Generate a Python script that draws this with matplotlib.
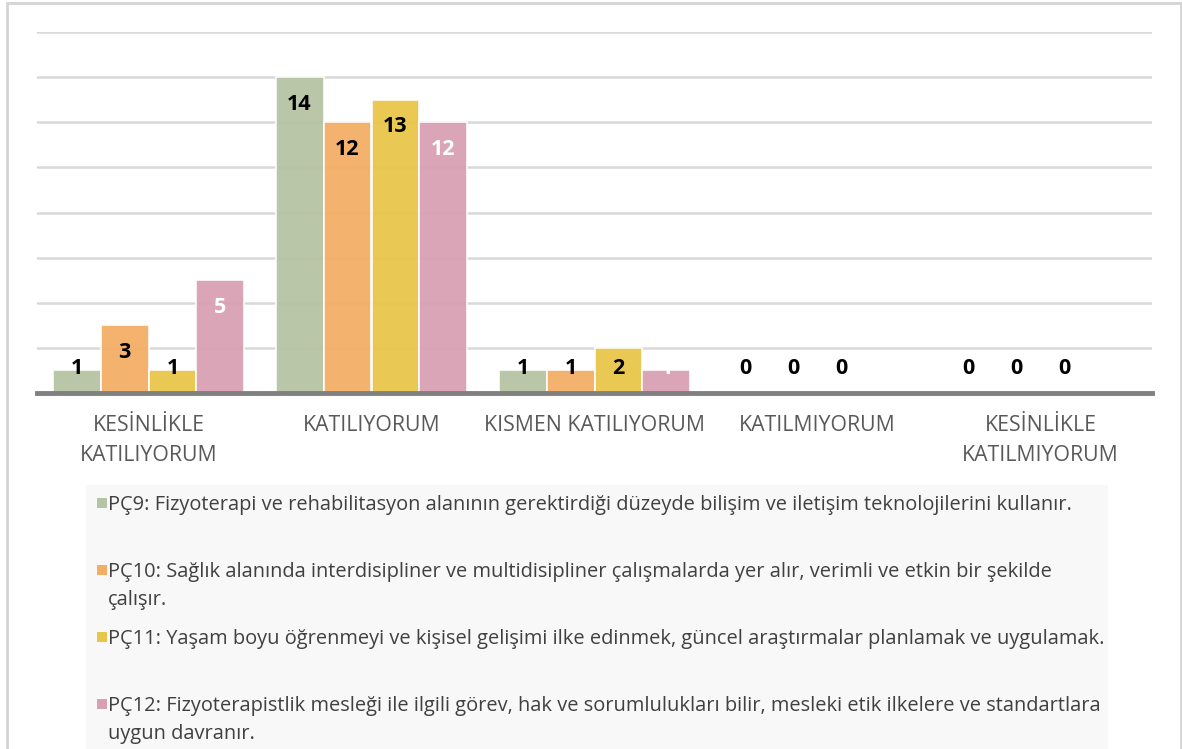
import matplotlib
matplotlib.use("Agg")
import matplotlib.pyplot as plt
from matplotlib.patches import Rectangle
import numpy as np

plt.rcParams['font.family'] = ['Open Sans', 'DejaVu Sans']

categories = ["KESİNLİKLE\nKATILIYORUM", "KATILIYORUM", "KISMEN KATILIYORUM",
              "KATILMIYORUM", "KESİNLİKLE\nKATILMIYORUM"]
series_names = [
    "PÇ9: Fizyoterapi ve rehabilitasyon alanının gerektirdiği düzeyde bilişim ve iletişim teknolojilerini kullanır.",
    "PÇ10: Sağlık alanında interdisipliner ve multidisipliner çalışmalarda yer alır, verimli ve etkin bir şekilde\nçalışır.",
    "PÇ11: Yaşam boyu öğrenmeyi ve kişisel gelişimi ilke edinmek, güncel araştırmalar planlamak ve uygulamak.",
    "PÇ12: Fizyoterapistlik mesleği ile ilgili görev, hak ve sorumlulukları bilir, mesleki etik ilkelere ve standartlara\nuygun davranır.",
]
pc9 = [1, 14, 1, 0, 0]
pc10 = [3, 12, 1, 0, 0]
pc11 = [1, 13, 2, 0, 0]
pc12 = [5, 12, 1, None, None]

values = [pc9, pc10, pc11, pc12]
colors = ["#b5c4a3", "#f3ae65", "#e8c64b", "#d8a1b3"]
label_colors = ["black", "black", "black", "white"]

fig = plt.figure(figsize=(11.82, 7.49), dpi=100)
# outer chart border
fig.patches.append(Rectangle((7 / 1182, -0.01), 1174 / 1182, 1 - 3 / 749 + 0.01,
                             transform=fig.transFigure, fill=False,
                             edgecolor="#d4d4d4", linewidth=2))

ax = fig.add_axes([37 / 1182, 1 - 393 / 749, 1115 / 1182, 361 / 749])
x = np.arange(len(categories))
w = 0.215
for i, (vals, c) in enumerate(zip(values, colors)):
    off = (i - 1.5) * w
    for j, v in enumerate(vals):
        if v is None:
            continue
        ax.bar(x[j] + off, v, w, color=c, edgecolor="#ffffff", linewidth=1.2, alpha=0.95, zorder=3)
        ax.text(x[j] + off, max(v - 1.2, 1.1), str(v), ha="center", va="center",
                fontsize=15.5, fontweight="bold", color=label_colors[i], zorder=4)

ax.set_xlim(-0.5, 4.5)
ax.set_ylim(0, 16)
ax.set_yticks(np.arange(2, 17, 2))
ax.yaxis.grid(True, color="#d9d9d9", linewidth=1.8)
ax.set_axisbelow(True)
ax.tick_params(axis="y", length=0, labelleft=False)
ax.tick_params(axis="x", length=0, pad=16)
ax.set_xticks(x)
ax.set_xticklabels(categories, fontsize=15.3, color="#595959", linespacing=1.56, va="top")
for s in ["left", "right", "top"]:
    ax.spines[s].set_visible(False)
ax.spines["bottom"].set_color("#808080")
ax.spines["bottom"].set_linewidth(3.5)
ax.spines["bottom"].set_zorder(5)

# legend box
fig.patches.append(Rectangle((86 / 1182, 0), 1022 / 1182, 1 - 485 / 749,
                             transform=fig.transFigure, facecolor="#f8f8f8",
                             edgecolor="none", zorder=0))
entry_top = [495, 562, 629, 696]
for name, c, ty in zip(series_names, colors, entry_top):
    fig.patches.append(Rectangle((97 / 1182, 1 - (ty + 13) / 749), 10 / 1182, 10 / 749,
                                 transform=fig.transFigure, facecolor=c,
                                 edgecolor="none", zorder=2))
    fig.text(108 / 1182, 1 - ty / 749, name, ha="left", va="top", fontsize=14.4,
             color="#404040", linespacing=1.5)

fig.savefig("out.png", dpi=100)
